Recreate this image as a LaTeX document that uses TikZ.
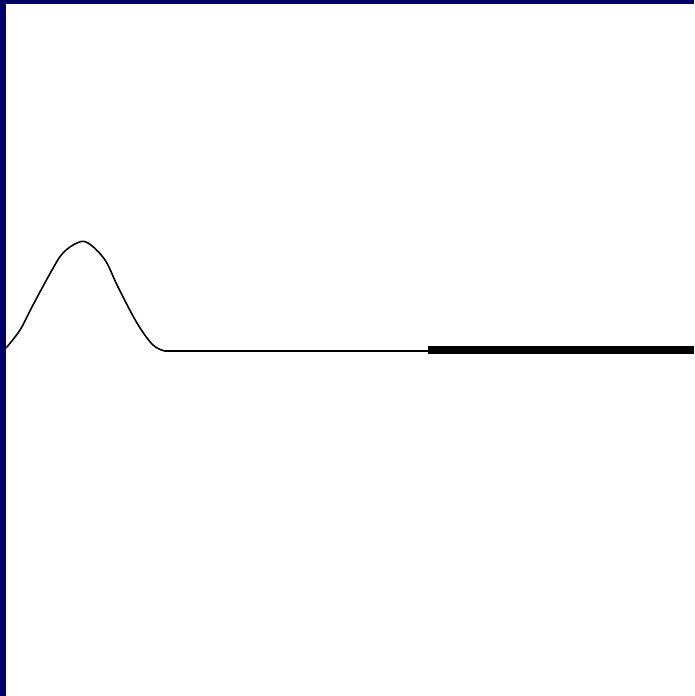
\documentclass[tikz,border=0pt]{standalone}
\usepackage{xcolor}
\usepackage{tikz}
\definecolor{framenavy}{RGB}{0,0,102}

\begin{document}
\begin{tikzpicture}[x=0.02cm,y=-0.02cm,
  wave/.style={black,line width=0.9pt},
  heavy/.style={black,line width=4.6pt}]
% Frame
\useasboundingbox (0,0) rectangle (694,696);
\fill[white] (0,0) rectangle (694,696);
\fill[framenavy] (0,0) rectangle (6,696);
\fill[framenavy] (0,0) rectangle (694,4);

% Pulse
\draw[wave] plot[smooth,tension=0.6] coordinates {
  (6,348)(20,330)(33,305)(52,270)(63,253)(77,243)(88,243)
  (105,260)(118,287)(137,323)(153,345)(165,351)
} -- (428,351);

% Thick segment
\draw[heavy] (428,350) -- (694,350);
\end{tikzpicture}
\end{document}
